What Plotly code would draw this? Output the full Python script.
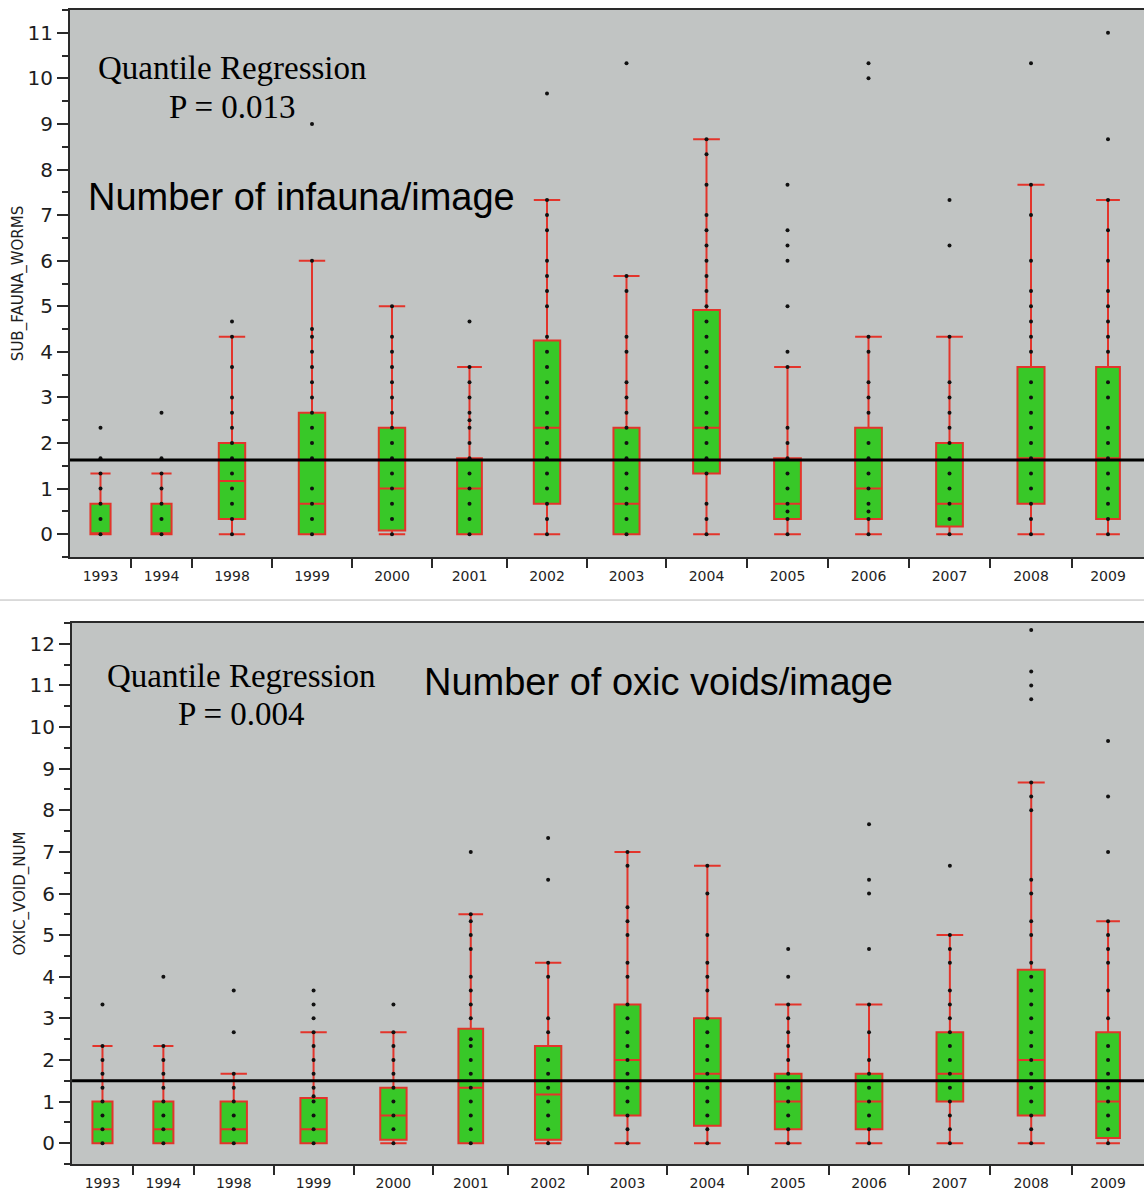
import numpy as np
import plotly.graph_objects as go

# ---------------- data ----------------
YEARS = ["1993", "1994", "1998", "1999", "2000", "2001", "2002",
         "2003", "2004", "2005", "2006", "2007", "2008", "2009"]

# Top panel: SUB_FAUNA_WORMS
INF_Q1 = [0, 0, 0.333, 0, 0.083, 0, 0.667, 0, 1.333, 0.333, 0.333, 0.167, 0.667, 0.333]
INF_MED = [0, 0, 1.167, 0.667, 1, 1, 2.333, 0.667, 2.333, 0.667, 1, 0.667, 1.667, 1.667]
INF_Q3 = [0.667, 0.667, 2, 2.667, 2.333, 1.667, 4.25, 2.333, 4.917, 1.667, 2.333, 2, 3.667, 3.667]
INF_LO = [0, 0, 0, 0, 0, 0, 0, 0, 0, 0, 0, 0, 0, 0]
INF_HI = [1.333, 1.333, 4.333, 6, 5, 3.667, 7.333, 5.667, 8.667, 3.667, 4.333, 4.333, 7.667, 7.333]
INF_PTS = [
    [0, 0.333, 0.667, 1, 1.333, 1.667, 2.333],
    [0, 0.333, 0.667, 1, 1.333, 1.667, 2.667],
    [0, 0.333, 0.667, 1, 1.333, 1.667, 2, 2.333, 2.667, 3, 3.667, 4.333, 4.667],
    [0, 0.333, 0.667, 1, 1.667, 2, 2.333, 2.667, 3, 3.333, 3.667, 4, 4.333, 4.5, 6, 9],
    [0, 0.333, 0.667, 1, 1.333, 1.667, 2, 2.333, 2.667, 3, 3.333, 3.667, 4, 4.333, 5],
    [0, 0.333, 0.667, 1, 1.333, 1.667, 2, 2.333, 2.5, 2.667, 3, 3.333, 3.667, 4.667],
    [0, 0.333, 0.667, 1, 1.333, 1.667, 2, 2.333, 2.667, 3, 3.333, 3.667, 4, 4.333, 5,
     5.333, 5.667, 6, 6.667, 7, 7.333, 9.667],
    [0, 0.333, 0.667, 1, 1.333, 1.667, 2, 2.333, 2.667, 3, 3.333, 4, 4.333, 5.333, 5.667, 10.333],
    [0, 0.333, 0.667, 1.333, 1.667, 2, 2.333, 2.667, 3, 3.333, 3.667, 4, 4.333, 4.667, 5,
     5.333, 5.667, 6, 6.333, 6.667, 7, 7.667, 8.333, 8.667],
    [0, 0.333, 0.5, 0.667, 1, 1.333, 1.667, 2, 2.333, 3.667, 4, 5, 6, 6.333, 6.667, 7.667],
    [0, 0.333, 0.5, 0.667, 1, 1.333, 1.667, 2, 2.667, 3, 3.333, 4, 4.333, 10, 10.333],
    [0, 0.333, 0.667, 1, 1.333, 1.667, 2, 2.333, 2.667, 3, 3.333, 4.333, 6.333, 7.333],
    [0, 0.333, 0.667, 1, 1.333, 1.667, 2, 2.333, 2.667, 3, 3.333, 4, 4.333, 4.667, 5,
     5.333, 6, 7, 7.667, 10.333],
    [0, 0.333, 0.667, 1, 1.333, 1.667, 2, 2.333, 3, 3.333, 4, 4.333, 4.667, 5, 5.333,
     6, 6.667, 7.333, 8.667, 11],
]
INF_REF = 1.63

# Bottom panel: OXIC_VOID_NUM
OX_Q1 = [0, 0, 0, 0, 0.083, 0, 0.083, 0.667, 0.417, 0.333, 0.333, 1, 0.667, 0.125]
OX_MED = [0.333, 0.333, 0.333, 0.333, 0.667, 1.333, 1.167, 2, 1.667, 1, 1, 1.667, 2, 1]
OX_Q3 = [1, 1, 1, 1.083, 1.333, 2.75, 2.333, 3.333, 3, 1.667, 1.667, 2.667, 4.167, 2.667]
OX_LO = [0, 0, 0, 0, 0, 0, 0, 0, 0, 0, 0, 0, 0, 0]
OX_HI = [2.333, 2.333, 1.667, 2.667, 2.667, 5.5, 4.333, 7, 6.667, 3.333, 3.333, 5, 8.667, 5.333]
OX_PTS = [
    [0, 0.333, 0.667, 1, 1.333, 1.667, 2, 2.333, 3.333],
    [0, 0.333, 0.667, 1, 1.333, 1.667, 2, 2.333, 4],
    [0, 0.333, 0.667, 1, 1.333, 1.667, 2.667, 3.667],
    [0, 0.333, 0.667, 1, 1.125, 1.333, 1.667, 2, 2.333, 2.667, 3, 3.333, 3.667],
    [0, 0.333, 0.667, 1, 1.333, 1.667, 2, 2.333, 2.667, 3.333],
    [0, 0.333, 0.667, 1, 1.333, 1.667, 2, 2.333, 2.5, 3, 3.333, 3.667, 4, 4.667, 5, 5.333, 5.5, 7],
    [0, 0.333, 0.667, 1, 1.333, 1.667, 2, 2.667, 3, 4, 4.333, 6.333, 7.333],
    [0, 0.333, 0.667, 1, 1.333, 1.667, 2, 2.333, 2.667, 3, 3.333, 4, 4.333, 5, 5.333, 5.667, 6.667, 7],
    [0, 0.333, 0.667, 1, 1.333, 1.667, 2, 2.333, 2.667, 3, 3.667, 4, 4.333, 5, 6, 6.667],
    [0, 0.333, 0.667, 1, 1.333, 1.667, 2, 2.333, 2.667, 3, 3.333, 4, 4.667],
    [0, 0.333, 0.667, 1, 1.333, 1.667, 2, 2.667, 3.333, 4.667, 6, 6.333, 7.667],
    [0, 0.333, 0.667, 1, 1.333, 1.667, 2, 2.333, 2.667, 3, 3.333, 3.667, 4.333, 4.667, 5, 6.667],
    [0, 0.333, 0.667, 1, 1.333, 1.667, 2, 2.333, 2.667, 3, 3.333, 3.667, 4, 4.333, 5, 5.333,
     6, 6.333, 8, 8.333, 8.667, 10.667, 11, 11.333, 12.333],
    [0, 0.333, 0.667, 1, 1.333, 1.667, 2, 2.333, 3, 3.667, 4.333, 4.667, 5, 5.333, 7, 8.333, 9.667],
]
OX_REF = 1.5

# ---------------- layout constants ----------------
CAT_W = [61, 61, 80, 80, 80, 75, 80, 79, 81, 81, 81, 81, 82, 72]  # JMP category widths
BOX_FRAC = 0.33
GREEN = "#38c828"
RED = "#e3342b"
PLOT_BG = "#c1c4c3"
AX = "#2a2a2a"
TICKFONT = dict(family="DejaVu Sans", size=20, color="#1e1e1e")

edges = np.concatenate([[0], np.cumsum(CAT_W)])
centers = (edges[:-1] + edges[1:]) / 2
total = float(edges[-1])

fig = go.Figure()


def add_panel(xa, ya, q1, med, q3, lo, hi, pts):
    for i in range(len(YEARS)):
        bw = BOX_FRAC * CAT_W[i]
        fig.add_trace(go.Box(
            x=[centers[i]], q1=[q1[i]], median=[med[i]], q3=[q3[i]],
            lowerfence=[lo[i]], upperfence=[hi[i]], orientation="v",
            width=bw, whiskerwidth=1, fillcolor=GREEN,
            line=dict(color=RED, width=2), boxpoints=False,
            xaxis=xa, yaxis=ya, showlegend=False, hoverinfo="skip"))
        fig.add_trace(go.Scatter(
            x=[centers[i]] * len(pts[i]), y=pts[i], mode="markers",
            marker=dict(size=4, color="#111111"),
            xaxis=xa, yaxis=ya, showlegend=False, hoverinfo="skip"))


add_panel("x", "y", INF_Q1, INF_MED, INF_Q3, INF_LO, INF_HI, INF_PTS)
add_panel("x2", "y2", OX_Q1, OX_MED, OX_Q3, OX_LO, OX_HI, OX_PTS)

for xa, yr in (("x", INF_REF), ("x2", OX_REF)):
    ya = "y" if xa == "x" else "y2"
    fig.add_shape(type="line", xref=f"{xa} domain", x0=0, x1=1,
                  yref=ya, y0=yr, y1=yr, line=dict(color="#000000", width=3))


def xaxis_cfg(domain, anchor):
    return dict(
        domain=domain, anchor=anchor, range=[0, total],
        tickmode="array", tickvals=list(centers), ticktext=YEARS,
        ticks="outside", ticklen=5, tickcolor="rgba(0,0,0,0)",
        tickfont=dict(family="DejaVu Sans", size=14, color="#1e1e1e"),
        minor=dict(tickmode="array", tickvals=list(edges[1:-1]), ticks="outside",
                   ticklen=9, tickwidth=1.5, tickcolor=AX, showgrid=False),
        showline=True, linecolor=AX, linewidth=2, mirror=True,
        showgrid=False, zeroline=False, fixedrange=True)


def yaxis_cfg(domain, anchor, rng, title):
    return dict(
        domain=domain, anchor=anchor, range=rng,
        tickmode="linear", tick0=0, dtick=1,
        ticks="outside", ticklen=11, tickwidth=1.5, tickcolor=AX,
        minor=dict(dtick=0.5, ticks="outside", ticklen=6, tickwidth=1.5,
                   tickcolor=AX, showgrid=False),
        tickfont=TICKFONT,
        title=dict(text=title, font=dict(family="DejaVu Sans", size=15, color="#1e1e1e"),
                   standoff=0),
        showline=True, linecolor=AX, linewidth=2,
        showgrid=False, zeroline=False, fixedrange=True)


fig.update_layout(
    width=1144, height=1197,
    margin=dict(l=70, r=0, t=10, b=33),
    paper_bgcolor="white", plot_bgcolor=PLOT_BG,
    showlegend=False,
    xaxis=xaxis_cfg([0, 1], "y"),
    yaxis=yaxis_cfg([0.526, 1.0], "x", [-0.5, 11.5], "SUB_FAUNA_WORMS"),
    xaxis2=xaxis_cfg([0.0019, 1], "y2"),
    yaxis2=yaxis_cfg([0, 0.4688], "x2", [-0.5, 12.5], "OXIC_VOID_NUM"),
)

SERIF = "Liberation Serif, Times New Roman, serif"
SANS = "Liberation Sans, Arial, sans-serif"
ann = [
    dict(text="Quantile Regression", x=0.151, y=0.894, xref="x domain", yref="y domain",
         font=dict(family=SERIF, size=33, color="black")),
    dict(text="P = 0.013", x=0.151, y=0.823, xref="x domain", yref="y domain",
         font=dict(family=SERIF, size=33, color="black")),
    dict(text="Number of infauna/image", x=0.216, y=0.658, xref="x domain", yref="y domain",
         font=dict(family=SANS, size=38, color="black")),
    dict(text="Quantile Regression", x=0.158, y=0.902, xref="x2 domain", yref="y2 domain",
         font=dict(family=SERIF, size=33, color="black")),
    dict(text="P = 0.004", x=0.158, y=0.832, xref="x2 domain", yref="y2 domain",
         font=dict(family=SERIF, size=33, color="black")),
    dict(text="Number of oxic voids/image", x=0.547, y=0.891, xref="x2 domain", yref="y2 domain",
         font=dict(family=SANS, size=38, color="black")),
]
for a in ann:
    a.update(showarrow=False, xanchor="center", yanchor="middle")
fig.update_layout(annotations=ann)

# thin separator between the two panels
fig.add_shape(type="line", xref="paper", yref="paper", x0=-0.07, x1=1, y0=0.4887, y1=0.4887,
              line=dict(color="#b8b8b8", width=1))

fig.write_html("out.html")
